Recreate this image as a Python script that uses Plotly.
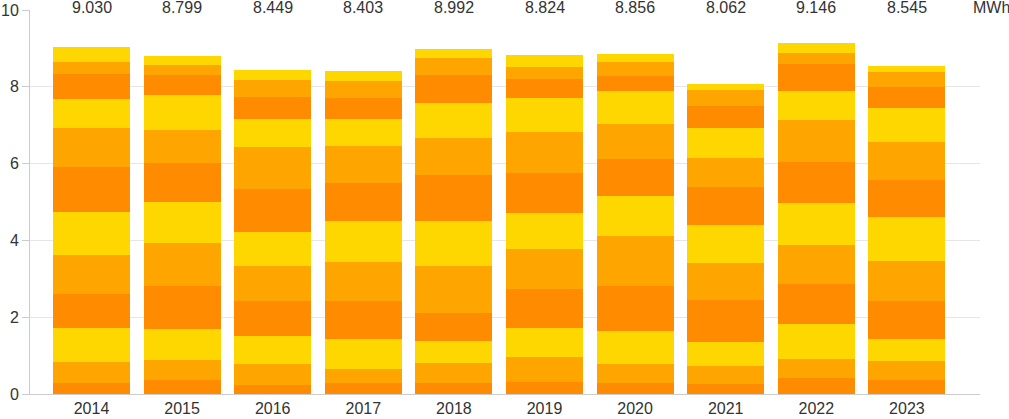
import plotly.graph_objects as go

years = ["2014", "2015", "2016", "2017", "2018", "2019", "2020", "2021", "2022", "2023"]
months = ["Jan", "Feb", "Mar", "Apr", "May", "Jun", "Jul", "Aug", "Sep", "Oct", "Nov", "Dec"]
totals = [9.030, 8.799, 8.449, 8.403, 8.992, 8.824, 8.856, 8.062, 9.146, 8.545]
unit = "MWh"

# monthly production per year (MWh), Jan..Dec
y2014 = [0.286, 0.547, 0.886, 0.885, 1.016, 1.120, 1.171, 1.016, 0.755, 0.659, 0.305, 0.384]
y2015 = [0.365, 0.520, 0.808, 1.120, 1.119, 1.076, 1.016, 0.851, 0.911, 0.521, 0.261, 0.231]
y2016 = [0.234, 0.547, 0.729, 0.912, 0.911, 0.886, 1.128, 1.094, 0.729, 0.573, 0.434, 0.272]
y2017 = [0.286, 0.365, 0.781, 0.990, 1.016, 1.067, 0.990, 0.963, 0.703, 0.547, 0.443, 0.252]
y2018 = [0.286, 0.521, 0.573, 0.729, 1.224, 1.172, 1.198, 0.964, 0.911, 0.729, 0.443, 0.242]
y2019 = [0.313, 0.651, 0.755, 1.015, 1.042, 0.938, 1.041, 1.068, 0.885, 0.495, 0.313, 0.308]
y2020 = [0.286, 0.495, 0.860, 1.172, 1.302, 1.041, 0.964, 0.911, 0.860, 0.390, 0.365, 0.210]
y2021 = [0.260, 0.469, 0.625, 1.094, 0.963, 0.990, 0.990, 0.755, 0.781, 0.573, 0.417, 0.145]
y2022 = [0.417, 0.494, 0.912, 1.042, 1.015, 1.094, 1.068, 1.093, 0.756, 0.703, 0.286, 0.266]
y2023 = [0.365, 0.494, 0.573, 0.990, 1.042, 1.145, 0.964, 0.990, 0.885, 0.547, 0.390, 0.160]

by_year = [y2014, y2015, y2016, y2017, y2018, y2019, y2020, y2021, y2022, y2023]
palette = ["#FF8C00", "#FFA500", "#FFD700"]

fig = go.Figure()
for m, name in enumerate(months):
    fig.add_trace(go.Bar(
        x=years,
        y=[yr[m] for yr in by_year],
        name=name,
        marker=dict(color=palette[m % 3], line=dict(width=0)),
        hovertemplate="%{x} " + name + ": %{y:.3f} MWh<extra></extra>",
    ))

for i, tot in enumerate(totals):
    fig.add_annotation(x=i, y=1, xref="x", yref="paper", text=f"{tot:.3f}",
                       showarrow=False, yanchor="middle", yshift=3,
                       font=dict(size=16, color="#333333"))

fig.add_annotation(x=1, y=1, xref="paper", yref="paper", text=unit, showarrow=False,
                   xanchor="left", xshift=-9, yanchor="middle", yshift=3,
                   font=dict(size=16, color="#333333"))

fig.update_layout(
    width=1009, height=419,
    barmode="stack", bargap=0.15,
    showlegend=False,
    paper_bgcolor="white", plot_bgcolor="white",
    margin=dict(l=30, r=29, t=10, b=25, autoexpand=False),
    font=dict(family="Liberation Sans, Arial, sans-serif", size=16, color="#333333"),
    xaxis=dict(type="category", range=[-0.679, 9.807], showgrid=False,
               showline=True, linecolor="#cccccc", linewidth=1, ticks="",
               tickfont=dict(size=16, color="#333333"), automargin=False),
    yaxis=dict(range=[0, 10], tickvals=[0, 2, 4, 6, 8, 10], showgrid=True,
               gridcolor="#e6e6e6", gridwidth=1, zeroline=False,
               showline=True, linecolor="#cccccc", linewidth=1,
               ticks="outside", ticklen=7, tickcolor="#cccccc",
               tickfont=dict(size=16, color="#333333"), automargin=False),
)

fig.write_html("out.html", config={"displayModeBar": False},
               post_script="document.body.style.margin='0';")
